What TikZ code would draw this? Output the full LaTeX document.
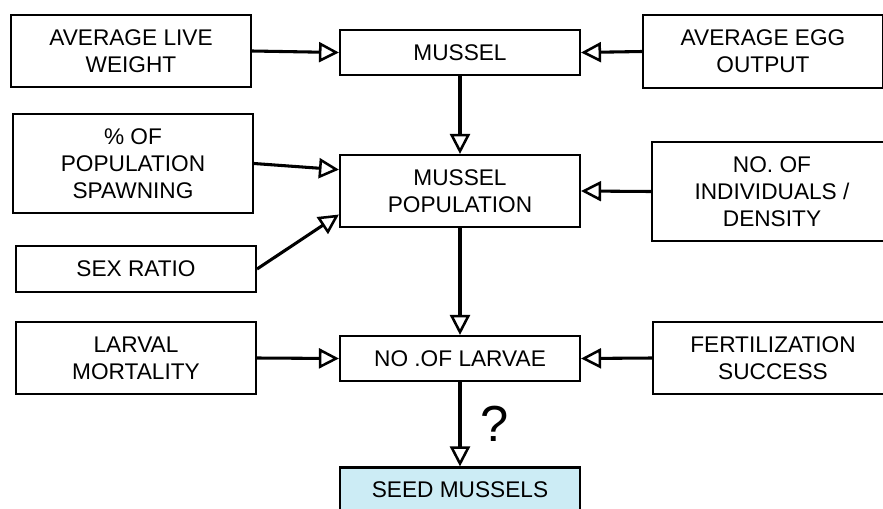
\documentclass[tikz,border=0pt]{standalone}
\usepackage{fontspec}
\setmainfont{Liberation Sans}
\usetikzlibrary{arrows.meta}
\definecolor{seedblue}{RGB}{204,236,245}
\begin{document}
\begin{tikzpicture}[x=0.75pt,y=-0.75pt,
        factor/.style={draw,line width=1.6pt,minimum width=180pt,inner sep=0pt,
          align=center,font=\fontsize{17}{20.3}\selectfont},
        link/.style={line width=2.3pt,
          -{Triangle[open,length=15pt,width=15pt,line width=1.9pt]}}]
        \useasboundingbox (0,0) rectangle (883,508) ;
        % left column
        \node[factor,minimum height=54pt] (weight) at (131,51) {AVERAGE LIVE\\WEIGHT} ;
        \node[factor,minimum height=74pt] (spawn) at (133,163.5) {\% OF\\POPULATION\\SPAWNING} ;
        \node[factor,minimum height=34.5pt] (sexratio) at (136,269) {SEX RATIO} ;
        \node[factor,minimum height=54pt] (mortality) at (136,358) {LARVAL\\MORTALITY} ;
        % middle column
        \node[factor,minimum height=33.75pt] (mussel) at (460,52.5) {MUSSEL} ;
        \node[factor,minimum height=54pt] (population) at (460,191) {MUSSEL\\POPULATION} ;
        \node[factor,minimum height=33.75pt] (larvae) at (460,358.5) {NO .OF LARVAE} ;
        \node[factor,minimum height=33.75pt,fill=seedblue] (seed) at (460,490) {SEED MUSSELS} ;
        % right column
        \node[factor,minimum height=54.5pt] (egg) at (763,51.5) {AVERAGE EGG\\OUTPUT} ;
        \node[factor,minimum height=74pt] (density) at (772,191.5) {NO. OF\\INDIVIDUALS /\\DENSITY} ;
        \node[factor,minimum height=54pt] (fertil) at (773,358) {FERTILIZATION\\SUCCESS} ;
        % arrows
        \draw[link] (weight.east) -- (mussel.west) ;
        \draw[link] (egg.west) -- (mussel.east) ;
        \draw[link] (mussel.south) -- (population.north) ;
        \draw[link] (spawn.east) -- (population.170) ;
        \draw[link] (sexratio.east) -- (population.191) ;
        \draw[link] (density.west) -- (population.east) ;
        \draw[link] (population.south) -- (larvae.north) ;
        \draw[link] (mortality.east) -- (larvae.west) ;
        \draw[link] (fertil.west) -- (larvae.east) ;
        \draw[link] (larvae.south) -- (seed.north)
        node[midway,right=11pt,font=\fontsize{38}{40}\selectfont] (query) {?} ;
\end{tikzpicture}
\end{document}
